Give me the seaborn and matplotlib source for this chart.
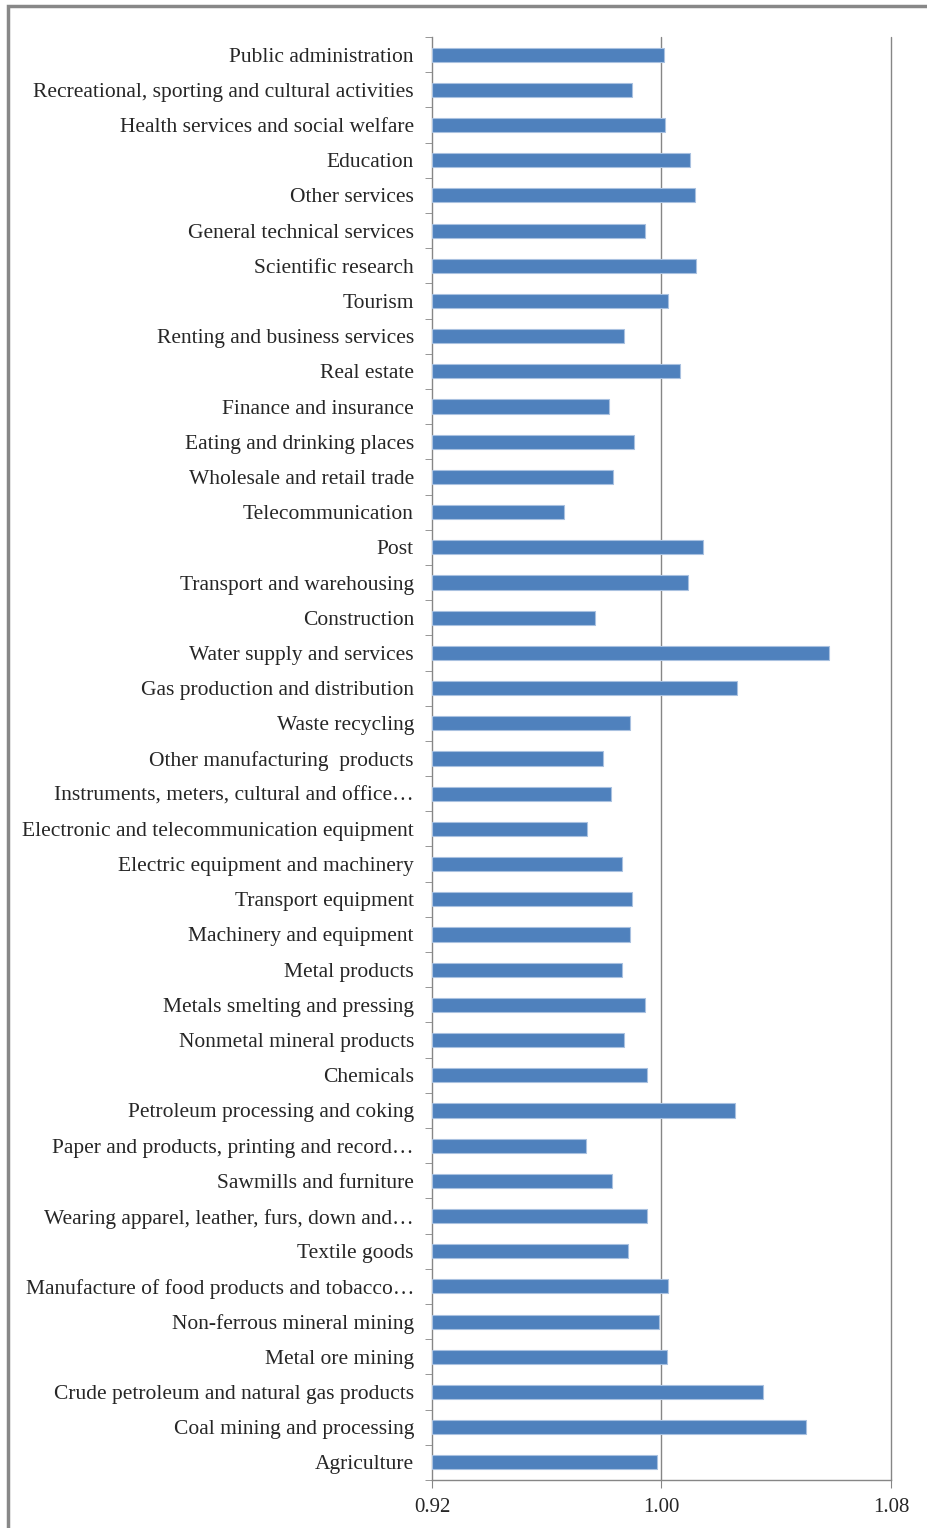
import seaborn as sns
import matplotlib.pyplot as plt
import matplotlib.patches as mpatches
import pandas as pd

sectors = [
    'Public administration',
    'Recreational, sporting and cultural activities',
    'Health services and social welfare',
    'Education',
    'Other services',
    'General technical services',
    'Scientific research',
    'Tourism',
    'Renting and business services',
    'Real estate',
    'Finance and insurance',
    'Eating and drinking places',
    'Wholesale and retail trade',
    'Telecommunication',
    'Post',
    'Transport and warehousing',
    'Construction',
    'Water supply and services',
    'Gas production and distribution',
    'Waste recycling',
    'Other manufacturing  products',
    'Instruments, meters, cultural and office\u2026',
    'Electronic and telecommunication equipment',
    'Electric equipment and machinery',
    'Transport equipment',
    'Machinery and equipment',
    'Metal products',
    'Metals smelting and pressing',
    'Nonmetal mineral products',
    'Chemicals',
    'Petroleum processing and coking',
    'Paper and products, printing and record\u2026',
    'Sawmills and furniture',
    'Wearing apparel, leather, furs, down and\u2026',
    'Textile goods',
    'Manufacture of food products and tobacco\u2026',
    'Non-ferrous mineral mining',
    'Metal ore mining',
    'Crude petroleum and natural gas products',
    'Coal mining and processing',
    'Agriculture',
]
values = [
    1.0010, 0.9899, 1.0014, 1.0101, 1.0118, 0.9941, 1.0122, 1.0024, 0.9868, 1.0066,
    0.9816, 0.9903, 0.9830, 0.9659, 1.0146, 1.0094, 0.9767, 1.0584, 1.0264, 0.9889,
    0.9798, 0.9823, 0.9739, 0.9861, 0.9899, 0.9889, 0.9861, 0.9941, 0.9871, 0.9948,
    1.0257, 0.9736, 0.9826, 0.9948, 0.9885, 1.0024, 0.9993, 1.0021, 1.0355, 1.0504,
    0.9983,
]
xticks = [0.92, 1.00, 1.08]
xticklabels = ['0.92', '1.00', '1.08']

df = pd.DataFrame({'sector': sectors, 'value': values})

sns.set_style('white')
plt.rcParams['font.family'] = ['Liberation Serif', 'DejaVu Serif']

fig = plt.figure(figsize=(9.28, 15.28), dpi=100)
ax = fig.add_axes([0.4655, 0.0314, 0.4945, 0.9444])

# bars start at 0.92 (left edge of axis), like an Excel bar chart
df['span'] = df['value'] - 0.92
sns.barplot(data=df, x='span', y='sector', order=sectors, orient='h',
            color='#4F81BD', saturation=1, width=0.4, left=0.92,
            edgecolor='#A9C1E0', linewidth=0.8, ax=ax, zorder=3)

ax.set_xlim(0.92, 1.08)
ax.set_ylim(len(sectors) - 0.5, -0.5)
ax.set_xticks(xticks)
ax.set_xticklabels(xticklabels, fontsize=15)
ax.set_xlabel('')
ax.set_ylabel('')
ax.tick_params(axis='y', length=0, labelsize=15.5, pad=13)
ax.tick_params(axis='x', length=6, color='#868686', direction='out', pad=7, bottom=True)

# category separators as minor ticks
ax.set_yticks([i - 0.5 for i in range(len(sectors) + 1)], minor=True)
ax.tick_params(axis='y', which='minor', length=5, color='#868686', left=True)

for x in xticks[1:]:
    ax.axvline(x, color='#868686', lw=1, zorder=1, clip_on=False)

for side in ['top', 'right']:
    ax.spines[side].set_visible(False)
for side in ['left', 'bottom']:
    ax.spines[side].set_color('#868686')
    ax.spines[side].set_linewidth(1)

# outer frame of the picture
fig.patches.append(mpatches.Rectangle((8 / 928, -0.05), 1.2, 1.05 - 6 / 1528,
                                      transform=fig.transFigure, fill=False,
                                      edgecolor='#888888', lw=2.5))

fig.savefig('out.png', dpi=100)
